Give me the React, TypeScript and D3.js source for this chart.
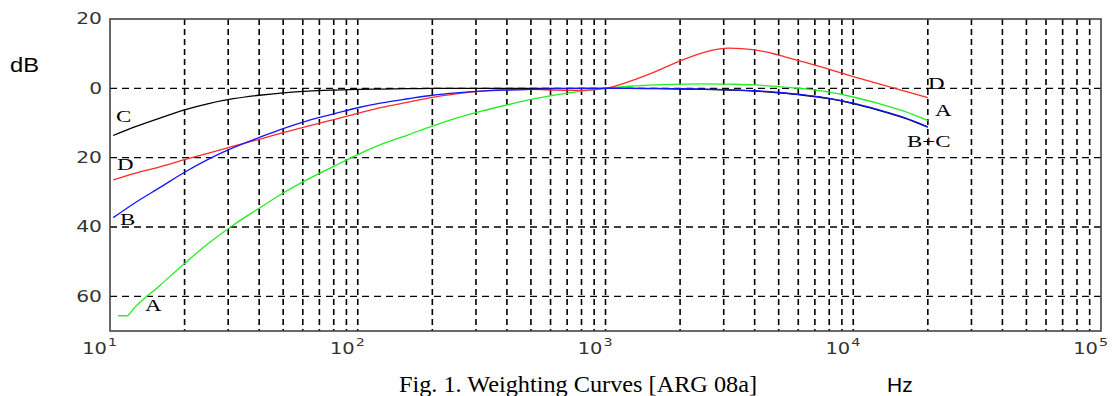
import React, { useEffect, useRef } from 'react';
import * as d3 from 'd3';

// third-octave band centres (first point = where curves start)
const bandHz = [10.3, 12.5, 16, 20, 25, 31.5, 40, 50, 63, 80, 100, 125, 160, 200, 250, 315, 400, 500, 630, 800,
  1000, 1250, 1600, 2000, 2500, 3150, 4000, 5000, 6300, 8000, 10000, 12500, 16000, 20000];

const weightA = [null, -63.4, -56.7, -50.5, -44.7, -39.4, -34.6, -30.2, -26.2, -22.5, -19.1, -16.1, -13.4, -10.9, -8.6, -6.6, -4.8, -3.2, -1.9, -0.8,
  0, 0.6, 1.0, 1.2, 1.3, 1.2, 1.0, 0.5, -0.1, -1.1, -2.5, -4.3, -6.6, -9.3];
const weightB = [-37.3, -33.2, -28.5, -24.2, -20.4, -17.1, -14.2, -11.6, -9.3, -7.4, -5.6, -4.2, -3.0, -2.0, -1.3, -0.8, -0.5, -0.3, -0.1, 0,
  0, 0, 0, -0.1, -0.2, -0.4, -0.7, -1.2, -1.9, -2.9, -4.3, -6.1, -8.4, -11.1];
const weightC = [-13.6, -11.2, -8.5, -6.2, -4.4, -3.0, -2.0, -1.3, -0.8, -0.5, -0.3, -0.2, -0.1, 0, 0, 0, 0, 0, 0, 0,
  0, 0, -0.1, -0.2, -0.3, -0.5, -0.8, -1.3, -2.0, -3.0, -4.4, -6.2, -8.5, -11.2];
const weightD = [-26.4, -24.6, -22.6, -20.6, -18.7, -16.7, -14.7, -12.8, -10.9, -9.0, -7.2, -5.5, -4.0, -2.6, -1.6, -0.8, -0.4, -0.3, -0.5, -0.6,
  0, 2.0, 4.9, 7.9, 10.4, 11.6, 11.1, 9.6, 7.6, 5.5, 3.4, 1.4, -0.7, -2.7];

// A curve is clipped flat at the very low end
const aLeadHz = [10.8, 11.7];
const aLeadDb = [-65.6, -65.6];

const yTicks = [20, 0, -20, -40, -60];
const yGrid = [0, -20, -40, -60];
const decades = [1, 2, 3, 4, 5];

const labelText = ['C', 'D', 'B', 'A', 'D', 'A', 'B+C'];
const labelHz = [10.57, 10.67, 10.97, 13.85, 20030, 21380, 16480];
const labelDb = [-9.7, -23.6, -39.4, -64.2, -0.2, -8.0, -16.9];

const W = 1117;
const H = 396;

const App = () => {
  const svgRef = useRef<SVGSVGElement | null>(null);

  useEffect(() => {
    if (!svgRef.current) return;
    const svg = d3.select(svgRef.current);
    svg.selectAll('*').remove();

    const x = d3.scaleLog().domain([10, 1e5]).range([110, 1101]);
    const y = d3.scaleLinear().domain([-70, 20]).range([331, 19]);

    // vertical grid: 2..9 of each decade plus inner decades
    const vGrid: number[] = [];
    for (let e = 1; e <= 4; e++) {
      for (let m = 1; m <= 9; m++) {
        const f = m * Math.pow(10, e);
        if (f > 10) vGrid.push(f);
      }
    }

    const grid = svg.append('g');
    grid.selectAll('line.v')
      .data(vGrid)
      .join('line')
      .attr('class', 'v')
      .attr('x1', d => x(d))
      .attr('x2', d => x(d))
      .attr('y1', y(20))
      .attr('y2', y(-70))
      .attr('stroke', '#000')
      .attr('stroke-width', 1.6)
      .attr('stroke-dasharray', '6,4');

    grid.selectAll('line.h')
      .data(yGrid)
      .join('line')
      .attr('class', 'h')
      .attr('x1', x(10))
      .attr('x2', x(1e5))
      .attr('y1', d => y(d))
      .attr('y2', d => y(d))
      .attr('stroke', '#000')
      .attr('stroke-width', 1.3)
      .attr('stroke-dasharray', '7,5');

    // frame
    svg.append('rect')
      .attr('x', x(10))
      .attr('y', y(20))
      .attr('width', x(1e5) - x(10))
      .attr('height', y(-70) - y(20))
      .attr('fill', 'none')
      .attr('stroke', '#444')
      .attr('stroke-width', 1.6);

    // curves
    const line = d3.line<[number, number]>()
      .x(d => x(d[0]))
      .y(d => y(d[1]))
      .curve(d3.curveMonotoneX);

    const toPts = (vals: (number | null)[]) =>
      bandHz.map((f, i) => [f, vals[i]] as [number, number | null])
        .filter(d => d[1] !== null) as [number, number][];

    const ptsA = [...aLeadHz.map((f, i) => [f, aLeadDb[i]] as [number, number]), ...toPts(weightA)];

    const curves: { pts: [number, number][]; color: string }[] = [
      { pts: ptsA, color: '#22ee22' },
      { pts: toPts(weightD), color: '#ff2a2a' },
      { pts: toPts(weightC), color: '#000' },
      { pts: toPts(weightB), color: '#1515ff' },
    ];

    svg.append('g')
      .selectAll('path')
      .data(curves)
      .join('path')
      .attr('d', d => line(d.pts))
      .attr('fill', 'none')
      .attr('stroke', d => d.color)
      .attr('stroke-width', 1.3);

    // y tick labels (shown without sign)
    svg.append('g')
      .selectAll('text')
      .data(yTicks)
      .join('text')
      .attr('transform', d => `translate(102, ${y(d)}) scale(1.35, 1)`)
      .attr('text-anchor', 'end')
      .attr('dy', '0.36em')
      .attr('font-family', 'DejaVu Sans')
      .attr('font-size', 15)
      .attr('fill', '#333')
      .text(d => String(Math.abs(d)));

    // x tick labels 10^n
    const xl = svg.append('g').selectAll('g')
      .data(decades)
      .join('g')
      .attr('transform', d => `translate(${x(Math.pow(10, d))}, 0)`);

    xl.append('text')
      .attr('transform', 'translate(-3, 354) scale(1.3, 1)')
      .attr('text-anchor', 'end')
      .attr('font-family', 'DejaVu Sans')
      .attr('font-size', 15)
      .attr('fill', '#333')
      .text('10');

    xl.append('text')
      .attr('transform', 'translate(-2, 346) scale(1.3, 1)')
      .attr('font-family', 'DejaVu Sans')
      .attr('font-size', 11)
      .attr('fill', '#333')
      .text(d => String(d));

    // curve letters
    svg.append('g')
      .selectAll('text')
      .data(labelText)
      .join('text')
      .attr('transform', (d, i) => `translate(${x(labelHz[i])}, ${y(labelDb[i])}) scale(1.35, 1)`)
      .attr('font-family', 'Liberation Serif')
      .attr('font-size', 17)
      .attr('fill', '#000')
      .text(d => d);

    // axis names and caption
    svg.append('text')
      .attr('x', 10)
      .attr('y', 72)
      .attr('font-family', 'Liberation Sans')
      .attr('font-size', 21)
      .attr('textLength', 29)
      .attr('lengthAdjust', 'spacingAndGlyphs')
      .text('dB');

    svg.append('text')
      .attr('x', 887)
      .attr('y', 392)
      .attr('font-family', 'Liberation Sans')
      .attr('font-size', 21)
      .text('Hz');

    svg.append('text')
      .attr('x', 399)
      .attr('y', 392)
      .attr('font-family', 'Liberation Serif')
      .attr('font-size', 24)
      .attr('textLength', 358)
      .attr('lengthAdjust', 'spacingAndGlyphs')
      .text('Fig. 1. Weighting Curves [ARG 08a]');
  }, []);

  return (
    <svg
      ref={svgRef}
      width={W}
      height={H}
      style={{ position: 'absolute', left: 0, top: 0, background: '#fff' }}
    />
  );
};

export default App;
